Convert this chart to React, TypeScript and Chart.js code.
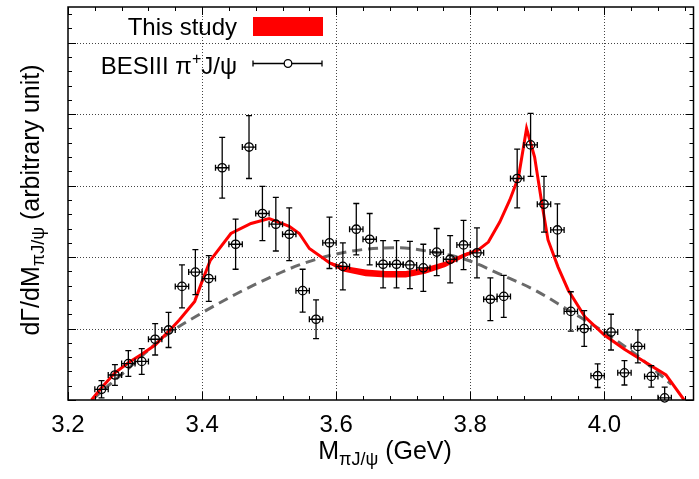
import React, { useEffect, useRef } from "react";
import { Chart, registerables } from "chart.js";

Chart.register(...registerables);

const FONT = '"Liberation Sans", Arial, Helvetica, sans-serif';

// BESIII pi+ J/psi data
const besMass = [3.25, 3.27, 3.29, 3.31, 3.33, 3.35, 3.37, 3.39, 3.41, 3.43, 3.45, 3.47, 3.49, 3.51, 3.53, 3.55, 3.57, 3.59, 3.61, 3.63, 3.65, 3.67, 3.69, 3.71, 3.73, 3.75, 3.77, 3.79, 3.81, 3.83, 3.85, 3.87, 3.89, 3.91, 3.93, 3.95, 3.97, 3.99, 4.01, 4.03, 4.05, 4.07, 4.09];
const besValues = [0.15, 0.35, 0.51, 0.54, 0.85, 0.98, 1.59, 1.79, 1.70, 3.25, 2.18, 3.54, 2.61, 2.46, 2.32, 1.53, 1.13, 2.20, 1.87, 2.39, 2.25, 1.90, 1.90, 1.89, 1.85, 2.07, 1.97, 2.17, 2.06, 1.41, 1.45, 3.10, 3.57, 2.74, 2.38, 1.24, 1.00, 0.34, 0.95, 0.38, 0.75, 0.33, 0.03];
const besErrors = [0.12, 0.145, 0.18, 0.18, 0.22, 0.245, 0.30, 0.315, 0.32, 0.425, 0.35, 0.44, 0.38, 0.375, 0.37, 0.30, 0.27, 0.36, 0.33, 0.36, 0.36, 0.33, 0.33, 0.33, 0.33, 0.33, 0.33, 0.345, 0.35, 0.30, 0.295, 0.41, 0.44, 0.39, 0.365, 0.275, 0.25, 0.165, 0.25, 0.17, 0.23, 0.15, 0.15];
const besBinHalfWidth = 0.01;

// This study (model curve with band)
const modelMass = [3.235, 3.25, 3.27, 3.29, 3.31, 3.33, 3.35, 3.366, 3.389, 3.40, 3.412, 3.443, 3.473, 3.50, 3.53, 3.545, 3.56, 3.59, 3.61, 3.644, 3.674, 3.704, 3.733, 3.763, 3.792, 3.812, 3.827, 3.844, 3.859, 3.872, 3.884, 3.896, 3.906, 3.916, 3.931, 3.946, 3.971, 4.0, 4.03, 4.06, 4.092, 4.119];
const modelValues = [0, 0.17, 0.38, 0.52, 0.64, 0.77, 0.96, 1.12, 1.38, 1.66, 1.95, 2.33, 2.47, 2.54, 2.43, 2.33, 2.12, 1.92, 1.84, 1.78, 1.76, 1.76, 1.81, 1.90, 2.03, 2.10, 2.21, 2.49, 2.80, 3.12, 3.80, 3.40, 2.80, 2.24, 1.86, 1.54, 1.165, 0.91, 0.71, 0.536, 0.35, 0];
const modelBand = [0, 0, 0, 0, 0, 0, 0, 0, 0, 0, 0, 0, 0, 0, 0, 0, 0, 0.02, 0.04, 0.047, 0.047, 0.047, 0.044, 0.038, 0.028, 0.018, 0.01, 0, 0, 0, 0, 0, 0, 0, 0, 0, 0, 0, 0, 0, 0, 0];

// Gray dashed curve
const phaseMass = [3.236, 3.26, 3.29, 3.32, 3.35, 3.40, 3.45, 3.50, 3.545, 3.594, 3.644, 3.694, 3.744, 3.792, 3.847, 3.896, 3.946, 3.995, 4.045, 4.075, 4.10];
const phaseValues = [0, 0.2, 0.44, 0.70, 0.93, 1.22, 1.48, 1.71, 1.89, 2.03, 2.11, 2.13, 2.07, 1.97, 1.75, 1.54, 1.26, 0.98, 0.65, 0.42, 0.22];

const xTickValues = [3.2, 3.4, 3.6, 3.8, 4.0];
const yGridValues = [0, 1, 2, 3, 4, 5];
const xMin = 3.2;
const xMax = 4.133;
const yMin = 0;
const yMax = 5.5;
const xMinorStep = 0.04;
const yMinorStep = 0.2;

type Piece = { t: string; size: number; dy: number };

function drawPieces(ctx: CanvasRenderingContext2D, pieces: Piece[], x: number, y: number, align: "left" | "center" | "right") {
  const widths = pieces.map((p) => {
    ctx.font = `${p.size}px ${FONT}`;
    return ctx.measureText(p.t).width;
  });
  const total = widths.reduce((a, b) => a + b, 0);
  let cx = align === "left" ? x : align === "center" ? x - total / 2 : x - total;
  ctx.textAlign = "left";
  ctx.textBaseline = "alphabetic";
  pieces.forEach((p, i) => {
    ctx.font = `${p.size}px ${FONT}`;
    ctx.fillText(p.t, cx, y + p.dy);
    cx += widths[i];
  });
}

const decorPlugin = {
  id: "decor",
  beforeDatasetsDraw(chart: any) {
    const { ctx, chartArea, scales } = chart;
    const xs = scales.x;
    const ys = scales.y;
    ctx.save();
    ctx.strokeStyle = "#444";
    ctx.lineWidth = 1;
    ctx.setLineDash([1, 2]);
    xTickValues.forEach((v) => {
      const px = Math.round(xs.getPixelForValue(v)) + 0.5;
      if (px <= chartArea.left + 2) return;
      ctx.beginPath();
      ctx.moveTo(px, chartArea.top);
      ctx.lineTo(px, chartArea.bottom);
      ctx.stroke();
    });
    yGridValues.forEach((v) => {
      const py = Math.round(ys.getPixelForValue(v)) + 0.5;
      if (py >= chartArea.bottom - 2) return;
      ctx.beginPath();
      ctx.moveTo(chartArea.left, py);
      ctx.lineTo(chartArea.right, py);
      ctx.stroke();
    });
    ctx.restore();
  },
  afterDatasetsDraw(chart: any) {
    const { ctx, chartArea, scales } = chart;
    const xs = scales.x;
    const ys = scales.y;
    ctx.save();
    ctx.beginPath();
    ctx.rect(chartArea.left, chartArea.top, chartArea.width, chartArea.height);
    ctx.clip();
    ctx.strokeStyle = "#000";
    ctx.lineWidth = 1.3;
    besMass.forEach((m, i) => {
      const px = xs.getPixelForValue(m);
      const py = ys.getPixelForValue(besValues[i]);
      const pt = ys.getPixelForValue(besValues[i] + besErrors[i]);
      const pb = ys.getPixelForValue(besValues[i] - besErrors[i]);
      const pl = xs.getPixelForValue(m - besBinHalfWidth);
      const pr = xs.getPixelForValue(m + besBinHalfWidth);
      ctx.beginPath();
      ctx.moveTo(px, pt);
      ctx.lineTo(px, pb);
      ctx.moveTo(px - 3, pt);
      ctx.lineTo(px + 3, pt);
      ctx.moveTo(px - 3, pb);
      ctx.lineTo(px + 3, pb);
      ctx.moveTo(pl, py);
      ctx.lineTo(pr, py);
      ctx.moveTo(pl, py - 3);
      ctx.lineTo(pl, py + 3);
      ctx.moveTo(pr, py - 3);
      ctx.lineTo(pr, py + 3);
      ctx.stroke();
    });
    ctx.restore();
  },
  afterDraw(chart: any) {
    const { ctx, chartArea, scales } = chart;
    const xs = scales.x;
    const ys = scales.y;
    const { left, right, top, bottom } = chartArea;
    ctx.save();
    // ticks
    ctx.strokeStyle = "#000";
    ctx.lineWidth = 1;
    ctx.beginPath();
    for (let k = 0; xMin + k * xMinorStep <= xMax + 1e-9; k++) {
      const v = xMin + k * xMinorStep;
      const major = Math.abs(v * 5 - Math.round(v * 5)) < 1e-6;
      const len = major ? 8 : 4;
      const px = Math.round(xs.getPixelForValue(v)) + 0.5;
      ctx.moveTo(px, bottom);
      ctx.lineTo(px, bottom - len);
      ctx.moveTo(px, top);
      ctx.lineTo(px, top + len);
    }
    for (let k = 0; yMin + k * yMinorStep <= yMax + 1e-9; k++) {
      const v = yMin + k * yMinorStep;
      const major = Math.abs(v - Math.round(v)) < 1e-6;
      const len = major ? 8 : 4;
      const py = Math.round(ys.getPixelForValue(v)) + 0.5;
      ctx.moveTo(left, py);
      ctx.lineTo(left + len, py);
      ctx.moveTo(right, py);
      ctx.lineTo(right - len, py);
    }
    ctx.stroke();
    // frame
    ctx.lineWidth = 1.5;
    ctx.strokeRect(left, top, right - left, bottom - top);

    ctx.fillStyle = "#000";
    // x title
    drawPieces(
      ctx,
      [
        { t: "M", size: 25, dy: 0 },
        { t: "\u03C0J/\u03C8", size: 18, dy: 6 },
        { t: " (GeV)", size: 25, dy: 0 },
      ],
      385,
      459,
      "center"
    );
    // y title
    ctx.save();
    ctx.translate(39, 200);
    ctx.rotate(-Math.PI / 2);
    drawPieces(
      ctx,
      [
        { t: "d\u0393/dM", size: 25, dy: 0 },
        { t: "\u03C0J/\u03C8", size: 18, dy: 5 },
        { t: " (arbitrary unit)", size: 25, dy: 0 },
      ],
      0,
      0,
      "center"
    );
    ctx.restore();

    // legend
    drawPieces(ctx, [{ t: "This study", size: 24, dy: 0 }], 237, 35, "right");
    ctx.fillStyle = "#ff0000";
    ctx.fillRect(253, 17, 70, 19);
    ctx.fillStyle = "#000";
    drawPieces(
      ctx,
      [
        { t: "BESIII \u03C0", size: 24, dy: 0 },
        { t: "+", size: 16, dy: -10 },
        { t: "J/\u03C8", size: 24, dy: 0 },
      ],
      237,
      74,
      "right"
    );
    ctx.strokeStyle = "#000";
    ctx.lineWidth = 1.3;
    ctx.beginPath();
    ctx.moveTo(253, 63.5);
    ctx.lineTo(284.2, 63.5);
    ctx.moveTo(291.8, 63.5);
    ctx.lineTo(322, 63.5);
    ctx.moveTo(253, 60.5);
    ctx.lineTo(253, 66.5);
    ctx.moveTo(322, 60.5);
    ctx.lineTo(322, 66.5);
    ctx.stroke();
    ctx.beginPath();
    ctx.arc(288, 63.5, 3.8, 0, Math.PI * 2);
    ctx.stroke();
    ctx.restore();
  },
};

export default function App() {
  const ref = useRef<HTMLCanvasElement>(null);
  useEffect(() => {
    if (!ref.current) return;
    const bandUpper = modelMass.map((m, i) => ({ x: m, y: modelValues[i] + modelBand[i] }));
    const bandLower = modelMass.map((m, i) => ({ x: m, y: modelValues[i] - modelBand[i] }));
    const chart = new Chart(ref.current, {
      type: "line",
      data: {
        datasets: [
          {
            label: "BESIII",
            data: besMass.map((m, i) => ({ x: m, y: besValues[i] })),
            showLine: false,
            pointRadius: 4.2,
            pointStyle: "circle",
            pointBorderColor: "#000",
            pointBackgroundColor: "rgba(0,0,0,0)",
            pointBorderWidth: 1.3,
            borderColor: "#000",
            clip: false as any,
          },
          {
            label: "This study",
            data: modelMass.map((m, i) => ({ x: m, y: modelValues[i] })),
            borderColor: "#ff0000",
            borderWidth: 3,
            pointRadius: 0,
            tension: 0,
            fill: false,
          },
          {
            label: "band upper",
            data: bandUpper,
            borderColor: "rgba(255,0,0,0)",
            borderWidth: 0,
            backgroundColor: "#ff0000",
            pointRadius: 0,
            tension: 0,
            fill: "+1",
          },
          {
            label: "band lower",
            data: bandLower,
            borderColor: "rgba(255,0,0,0)",
            borderWidth: 0,
            pointRadius: 0,
            tension: 0,
            fill: false,
          },
          {
            label: "phase",
            data: phaseMass.map((m, i) => ({ x: m, y: phaseValues[i] })),
            borderColor: "#6a6a6a",
            borderWidth: 3,
            borderDash: [10, 6],
            pointRadius: 0,
            cubicInterpolationMode: "monotone",
            fill: false,
          },
        ],
      },
      options: {
        animation: false,
        responsive: false,
        events: [],
        layout: { padding: { top: 7, right: 3, left: 0, bottom: 0 } },
        plugins: { legend: { display: false }, tooltip: { enabled: false } },
        scales: {
          x: {
            type: "linear",
            min: xMin,
            max: xMax,
            afterFit: (s: any) => {
              s.height = 79;
            },
            afterBuildTicks: (s: any) => {
              s.ticks = xTickValues.map((v) => ({ value: v }));
            },
            grid: { display: false, drawTicks: false },
            border: { display: false },
            ticks: {
              font: { family: FONT, size: 24 },
              color: "#000",
              padding: 11,
              maxRotation: 0,
              autoSkip: false,
              callback: (v: any) => Number(v).toFixed(1),
            },
          },
          y: {
            type: "linear",
            min: yMin,
            max: yMax,
            afterFit: (s: any) => {
              s.width = 68;
            },
            grid: { display: false, drawTicks: false },
            border: { display: false },
            ticks: { display: false },
          },
        },
      } as any,
      plugins: [decorPlugin],
    });
    return () => chart.destroy();
  }, []);
  return (
    <div style={{ position: "absolute", left: 0, top: 0, width: 699, height: 479, background: "#fff" }}>
      <canvas ref={ref} width={699} height={479} style={{ display: "block" }} />
    </div>
  );
}
